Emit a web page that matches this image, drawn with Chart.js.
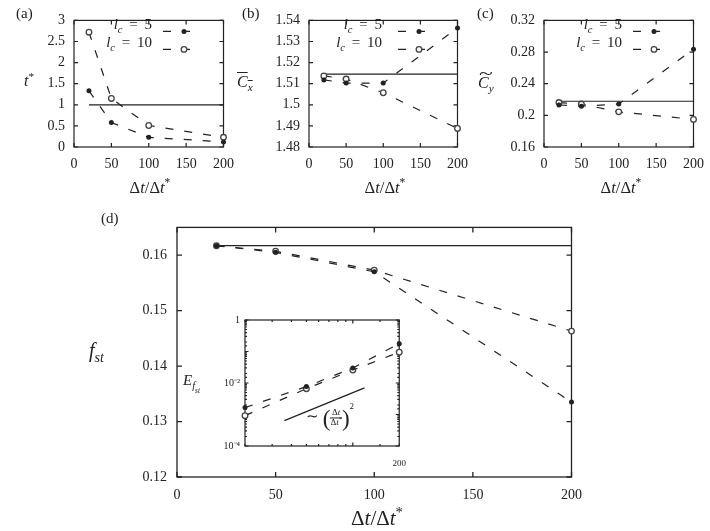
<!DOCTYPE html>
<html>
<head>
<meta charset="utf-8">
<script src="https://cdn.jsdelivr.net/npm/chart.js@4.4.0/dist/chart.umd.min.js"></script>
<style>
  body { margin: 0; background: #fff; }
  #fig { position: relative; width: 710px; height: 531px; font-family: 'Liberation Serif', serif; color: #222; overflow: hidden; }
  canvas { position: absolute; }
  .t { position: absolute; white-space: nowrap; line-height: 1; transform: translateY(-50%); }
  .c { transform: translate(-50%, -50%); }
  .r { transform: translate(-100%, -50%); }
  sub, sup { font-size: 70%; line-height: 0; }
  .eq { margin: 0 0.45em; }
  .acc { position: relative; display: inline-block; }
  .acc .tl { position: absolute; left: 0; right: 0; top: -0.55em; text-align: center; font-style: normal; transform: scaleX(1.6); }
  .frac { display: inline-flex; flex-direction: column; vertical-align: middle; font-size: 9px; text-align: center; line-height: 1.05; }
  .frac span:first-child { border-bottom: 1px solid #222; padding: 0 1px; }
  .paren { font-size: 23px; vertical-align: middle; }
</style>
</head>
<body>
<div id="fig">
  <canvas id="pa"></canvas>
  <canvas id="pb"></canvas>
  <canvas id="pc"></canvas>
  <canvas id="pd"></canvas>
  <canvas id="pin"></canvas>

  <div class="t" style="left:16px;top:13px;font-size:15px">(a)</div>
  <div class="t" style="left:242px;top:13px;font-size:15px">(b)</div>
  <div class="t" style="left:477px;top:13px;font-size:15px">(c)</div>
  <div class="t" style="left:101px;top:218px;font-size:15px">(d)</div>

  <div class="t" style="left:24px;top:81px;font-size:16px"><i>t</i><sup>*</sup></div>
  <div class="t" style="left:237px;top:82px;font-size:16px"><span style="text-decoration:overline"><i>C<sub>x</sub></i></span></div>
  <div class="t" style="left:478px;top:83px;font-size:16px"><span class="acc"><i>C<sub>y</sub></i><span class="tl">~</span></span></div>
  <div class="t" style="left:89px;top:350px;font-size:20px"><i>f<sub>st</sub></i></div>
  <div class="t" style="left:183px;top:382px;font-size:15px"><i>E<sub>f<sub>st</sub></sub></i></div>

  <div class="t c" style="left:150px;top:188px;font-size:16.5px">Δ<i>t</i>/Δ<i>t</i><sup>*</sup></div>
  <div class="t c" style="left:385px;top:188px;font-size:16.5px">Δ<i>t</i>/Δ<i>t</i><sup>*</sup></div>
  <div class="t c" style="left:621px;top:188px;font-size:16.5px">Δ<i>t</i>/Δ<i>t</i><sup>*</sup></div>
  <div class="t c" style="left:377px;top:518px;font-size:21px">Δ<i>t</i>/Δ<i>t</i><sup>*</sup></div>

  <div class="t r" style="left:152px;top:24px;font-size:15px"><i>l<sub>c</sub></i><span class="eq">=</span>5</div>
  <div class="t r" style="left:152px;top:42px;font-size:15px"><i>l<sub>c</sub></i><span class="eq">=</span>10</div>
  <div class="t r" style="left:382px;top:24px;font-size:15px"><i>l<sub>c</sub></i><span class="eq">=</span>5</div>
  <div class="t r" style="left:382px;top:42px;font-size:15px"><i>l<sub>c</sub></i><span class="eq">=</span>10</div>
  <div class="t r" style="left:622px;top:24px;font-size:15px"><i>l<sub>c</sub></i><span class="eq">=</span>5</div>
  <div class="t r" style="left:622px;top:42px;font-size:15px"><i>l<sub>c</sub></i><span class="eq">=</span>10</div>

  <div class="t" style="left:306px;top:418px;font-size:15px">∼ <span class="paren">(</span><span class="frac"><span>Δ<i>t</i></span><span>Δ<i>t</i><sup>*</sup></span></span><span class="paren">)</span><sup style="font-size:9px;vertical-align:12px">2</sup></div>
</div>

<script>
// time step ratio (x values shared by all panels)
const dtRatio = [20, 50, 100, 200];

// (a) t*
const tStar5 = [1.33, 0.58, 0.23, 0.12];
const tStar10 = [2.72, 1.15, 0.51, 0.23];
const tStarRef = 1;

// (b) mean Cx
const cx5 = [1.5118, 1.5103, 1.5103, 1.5364];
const cx10 = [1.5137, 1.5122, 1.5057, 1.4888];
const cxRef = 1.5145;

// (c) Cy amplitude
const cy5 = [0.2131, 0.2115, 0.2143, 0.2836];
const cy10 = [0.2162, 0.2143, 0.2044, 0.1949];
const cyRef = 0.2178;

// (d) Strouhal frequency
const fst5 = [0.1617, 0.1605, 0.1570, 0.1335];
const fst10 = [0.1617, 0.1607, 0.1573, 0.1463];
const fstRef = 0.1617;

// inset: relative error
const err5 = [1.66e-3, 7.7e-3, 3.0e-2, 0.177];
const err10 = [9.2e-4, 6.6e-3, 2.57e-2, 0.095];
const slopeX = [36, 119];
const slopeY = [6.4e-4, 7.0e-3];

const ink = '#222';
const serif = "'Liberation Serif', serif";
const dashed = [8, 11];

function pts(xs, ys) {
    return xs.map((x, i) => ({x: x, y: ys[i]}));
}

function seriesSet(ys5, ys10, ref) {
    const list = [
        {label: 'lc = 5', data: pts(dtRatio, ys5), borderColor: ink, borderWidth: 1.2, borderDash: dashed,
         pointRadius: 2.5, pointBackgroundColor: ink, pointBorderColor: ink, pointBorderWidth: 0, clip: false},
        {label: 'lc = 10', data: pts(dtRatio, ys10), borderColor: ink, borderWidth: 1.2, borderDash: dashed,
         pointRadius: 2.8, pointBackgroundColor: '#fff', pointBorderColor: '#444', pointBorderWidth: 1.3, clip: false}
    ];
    if (ref !== null) {
        list.push({label: 'ref', data: pts([dtRatio[0], dtRatio[3]], [ref, ref]), borderColor: ink, borderWidth: 1.2,
                   pointRadius: 0, clip: false});
    }
    return list;
}

function isMinor(v, scale) {
    if (scale.type !== 'logarithmic') return false;
    const e = Math.log10(v);
    return Math.abs(e - Math.round(e)) > 1e-6;
}

// box around plot, inward ticks on all four sides, gnuplot-like legend samples
const frame = {
    id: 'frame',
    beforeDatasetsDraw(chart, args, o) {
        const {ctx, chartArea: a, scales} = chart;
        ctx.save();
        ctx.strokeStyle = ink;
        ctx.lineWidth = o.lineWidth;
        ctx.setLineDash([]);
        ctx.strokeRect(a.left, a.top, a.width, a.height);
        ctx.beginPath();
        scales.x.ticks.forEach(t => {
            const px = scales.x.getPixelForValue(t.value);
            const len = isMinor(t.value, scales.x) ? o.minor : o.major;
            ctx.moveTo(px, a.bottom); ctx.lineTo(px, a.bottom - len);
            ctx.moveTo(px, a.top); ctx.lineTo(px, a.top + len);
        });
        scales.y.ticks.forEach(t => {
            const py = scales.y.getPixelForValue(t.value);
            const len = isMinor(t.value, scales.y) ? o.minor : o.major;
            ctx.moveTo(a.left, py); ctx.lineTo(a.left + len, py);
            ctx.moveTo(a.right, py); ctx.lineTo(a.right - len, py);
        });
        ctx.stroke();
        ctx.restore();
    },
    afterDatasetsDraw(chart, args, o) {
        if (!o.legend) return;
        const {ctx, chartArea: a} = chart;
        const lg = o.legend;
        ctx.save();
        chart.data.datasets.slice(0, 2).forEach((ds, i) => {
            const y = a.top + lg.rows[i];
            ctx.strokeStyle = ds.borderColor;
            ctx.lineWidth = ds.borderWidth;
            ctx.setLineDash(ds.borderDash);
            ctx.beginPath();
            ctx.moveTo(a.left + lg.from, y);
            ctx.lineTo(a.left + lg.to, y);
            ctx.stroke();
            ctx.setLineDash([]);
            ctx.beginPath();
            ctx.arc(a.left + lg.mark, y, ds.pointRadius, 0, Math.PI * 2);
            ctx.fillStyle = ds.pointBackgroundColor;
            ctx.fill();
            if (ds.pointBorderWidth) {
                ctx.lineWidth = ds.pointBorderWidth;
                ctx.strokeStyle = ds.pointBorderColor;
                ctx.stroke();
            }
        });
        ctx.restore();
    }
};

function numLabel(v) {
    return String(+v.toFixed(4));
}

function linAxis(min, max, step, size, pad) {
    return {
        type: 'linear', min: min, max: max,
        grid: {display: false, drawTicks: false}, border: {display: false},
        ticks: {stepSize: step, includeBounds: false, padding: pad, color: ink, autoSkip: false, maxRotation: 0,
                font: {family: serif, size: size}, callback: numLabel}
    };
}

function makePanel(id, area, m, xAxis, yAxis, datasets, frameOpts) {
    const cv = document.getElementById(id);
    const w = area.w + m.yw + m.pr, h = area.h + m.pt + m.xb;
    cv.width = w; cv.height = h;
    cv.style.left = (area.l - m.yw) + 'px';
    cv.style.top = (area.t - m.pt) + 'px';
    cv.style.width = w + 'px'; cv.style.height = h + 'px';
    xAxis.afterFit = s => { s.height = m.xb; };
    yAxis.afterFit = s => { s.width = m.yw; };
    return new Chart(cv, {
        type: 'line',
        data: {datasets: datasets},
        options: {
            responsive: false, animation: false, devicePixelRatio: 1,
            layout: {padding: {top: m.pt, right: m.pr, left: 0, bottom: 0}},
            plugins: {legend: {display: false}, tooltip: {enabled: false}, frame: frameOpts},
            scales: {x: xAxis, y: yAxis}
        },
        plugins: [frame]
    });
}

const topM = {yw: 50, pt: 10, pr: 16, xb: 30};
const topLegend = {rows: [11, 29], from: 89, to: 119, mark: 110};

makePanel('pa', {l: 74, t: 13, w: 153, h: 134}, topM,
    linAxis(0, 200, 50, 14, 9), linAxis(0, 3, 0.5, 14, 9),
    seriesSet(tStar5, tStar10, tStarRef), {lineWidth: 1.2, major: 4, minor: 2, legend: topLegend});

makePanel('pb', {l: 309, t: 13, w: 152, h: 134}, topM,
    linAxis(0, 200, 50, 14, 9), linAxis(1.48, 1.54, 0.01, 14, 9),
    seriesSet(cx5, cx10, cxRef), {lineWidth: 1.2, major: 4, minor: 2, legend: topLegend});

makePanel('pc', {l: 544, t: 13, w: 153, h: 134}, topM,
    linAxis(0, 200, 50, 14, 9), linAxis(0.16, 0.32, 0.04, 14, 9),
    seriesSet(cy5, cy10, cyRef), {lineWidth: 1.2, major: 4, minor: 2, legend: topLegend});

makePanel('pd', {l: 177, t: 219, w: 397, h: 258}, {yw: 60, pt: 10, pr: 18, xb: 30},
    linAxis(0, 200, 50, 14, 10), linAxis(0.12, 0.165, 0.01, 14, 10),
    seriesSet(fst5, fst10, fstRef), {lineWidth: 1.3, major: 5, minor: 2});

// inset, log-log
const supDigits = {'-': '⁻', '0': '⁰', '1': '¹', '2': '²', '3': '³', '4': '⁴'};
const inX = {
    type: 'logarithmic', min: 20, max: 200,
    grid: {display: false, drawTicks: false}, border: {display: false},
    ticks: {padding: 12, color: ink, autoSkip: false, maxRotation: 0, font: {family: serif, size: 9},
            callback: v => (Math.abs(v - 200) < 1e-6 ? '200' : '')}
};
const inY = {
    type: 'logarithmic', min: 1e-4, max: 1,
    grid: {display: false, drawTicks: false}, border: {display: false},
    ticks: {padding: 5, color: ink, autoSkip: false, font: {family: serif, size: 10},
            callback: v => {
                const e = Math.round(Math.log10(v));
                if (Math.abs(Math.log10(v) - e) > 1e-6 || e % 2 !== 0) return '';
                if (e === 0) return '1';
                return '10' + String(e).split('').map(ch => supDigits[ch]).join('');
            }}
};
const insetSets = seriesSet(err5, err10, null);
insetSets.push({label: 'slope', data: pts(slopeX, slopeY), borderColor: ink, borderWidth: 1.3, pointRadius: 0});

makePanel('pin', {l: 245, t: 317, w: 159, h: 129}, {yw: 40, pt: 8, pr: 14, xb: 26},
    inX, inY, insetSets, {lineWidth: 1.2, major: 3.5, minor: 2});
</script>
</body>
</html>
